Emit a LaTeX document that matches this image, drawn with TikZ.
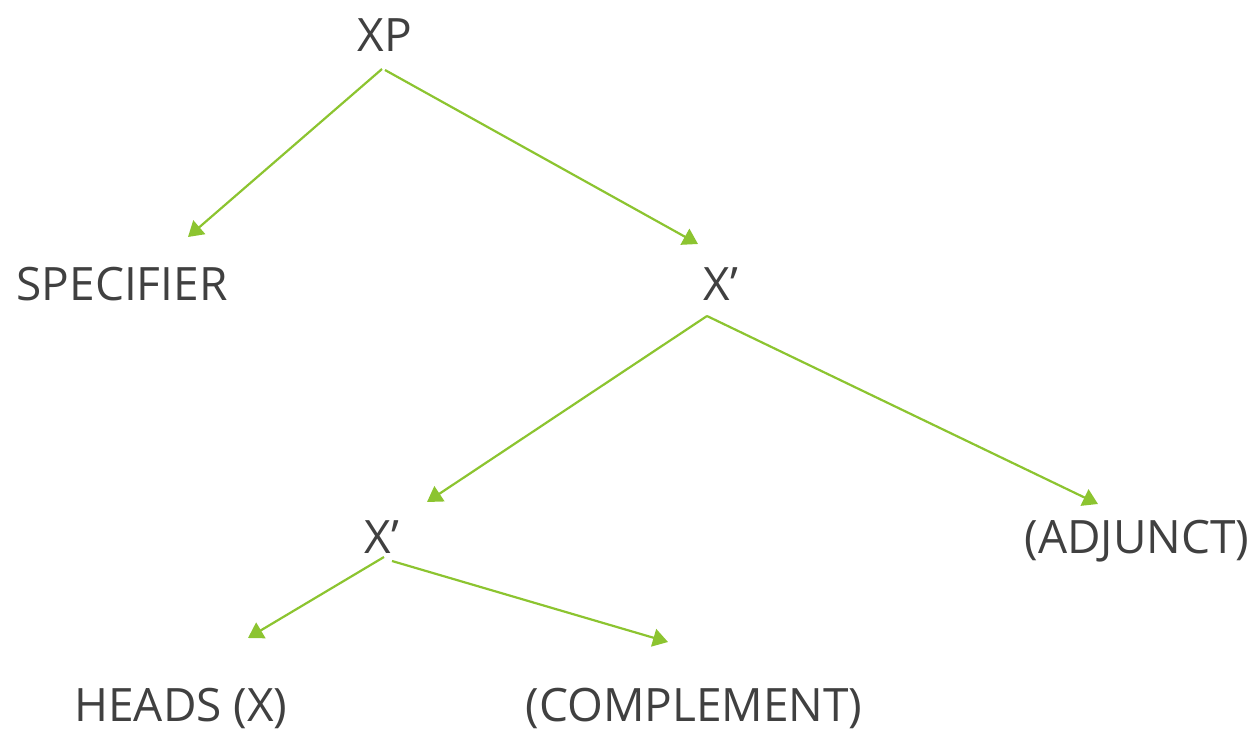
\documentclass[tikz,border=0pt]{standalone}
\usepackage{fontspec}
\setmainfont{Open Sans}
\usetikzlibrary{arrows.meta}
\definecolor{lg}{RGB}{140,196,48}
\definecolor{tx}{RGB}{64,64,64}
\tikzset{
  lbl/.style={text=tx, font=\fontsize{46}{50}\selectfont, inner sep=0pt, anchor=base},
  arr/.style={draw=lg, line width=2.2pt, -{Triangle[length=15pt,width=18pt]}}
}
\begin{document}
\begin{tikzpicture}[x=1pt,y=-1pt]
\useasboundingbox (0,0) rectangle (1259,731);
\node[lbl] (XP) at (385,51) {XP};
\node[lbl] (SPEC) at (122,300) {SPECIFIER};
\node[lbl] (XB1) at (721,300) {X’};
\node[lbl] (XB2) at (382,553) {X’};
\node[lbl] (ADJ) at (1137,553) {(ADJUNCT)};
\node[lbl] (HEAD) at (181,721) {HEADS (X)};
\node[lbl] (COMP) at (694,721) {(COMPLEMENT)};
% connector ends
\coordinate (xpL) at (382,69);
\coordinate (xpR) at (385,70);
\coordinate (specT) at (188,237);
\coordinate (xb1T) at (698,244);
\coordinate (xb1B) at (707,316);
\coordinate (xb2T) at (427,502);
\coordinate (adjT) at (1098,504);
\coordinate (xb2L) at (384,557);
\coordinate (xb2R) at (392,561);
\coordinate (headT) at (248,638);
\coordinate (compT) at (668,642);
\draw[arr] (xpL) -- (specT);
\draw[arr] (xpR) -- (xb1T);
\draw[arr] (xb1B) -- (xb2T);
\draw[arr] (xb1B) -- (adjT);
\draw[arr] (xb2L) -- (headT);
\draw[arr] (xb2R) -- (compT);
\end{tikzpicture}
\end{document}
